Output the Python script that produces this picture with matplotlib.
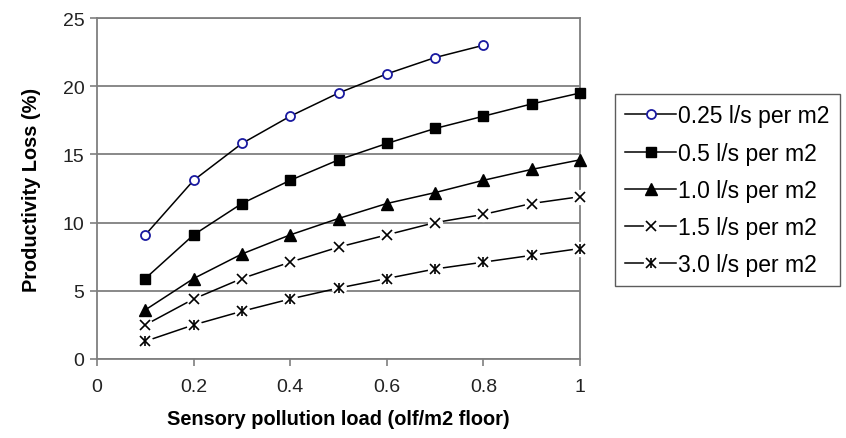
import matplotlib
matplotlib.use("Agg")
import matplotlib.pyplot as plt
from matplotlib.lines import Line2D
from matplotlib.legend_handler import HandlerTuple

plt.rcParams["font.family"] = ["Liberation Sans", "DejaVu Sans"]

# ---------- data ----------
load = [0.1, 0.2, 0.3, 0.4, 0.5, 0.6, 0.7, 0.8, 0.9, 1.0]
loss_025 = [9.1, 13.1, 15.8, 17.8, 19.5, 20.9, 22.1, 23.0]
loss_05 = [5.9, 9.1, 11.4, 13.1, 14.6, 15.8, 16.9, 17.8, 18.7, 19.5]
loss_10 = [3.6, 5.9, 7.7, 9.1, 10.3, 11.4, 12.2, 13.1, 13.9, 14.6]
loss_15 = [2.5, 4.4, 5.9, 7.1, 8.2, 9.1, 10.0, 10.6, 11.4, 11.9]
loss_30 = [1.3, 2.5, 3.5, 4.4, 5.2, 5.9, 6.6, 7.1, 7.6, 8.1]
labels = ["0.25 l/s per m2", "0.5 l/s per m2", "1.0 l/s per m2",
          "1.5 l/s per m2", "3.0 l/s per m2"]

W, H = 846, 439
fig = plt.figure(figsize=(W / 100, H / 100), dpi=100)
ax = fig.add_axes([97 / W, 1 - 360 / H, 483 / W, 341 / H])

LW = 1.1
handles = []

# 0.25 - hollow blue circles
ax.plot(load[:len(loss_025)], loss_025, color="black", lw=LW, zorder=3)
ax.plot(load[:len(loss_025)], loss_025, ls="none", marker="o", ms=6.5,
        mfc="white", mec="#1a1aa0", mew=1.3, zorder=5, clip_on=False)
handles.append((Line2D([], [], color="black", lw=LW),
                Line2D([], [], ls="none", marker="o", ms=6.5, mfc="white",
                       mec="#1a1aa0", mew=1.3)))

# 0.5 - filled squares
ax.plot(load, loss_05, color="black", lw=LW, marker="s", ms=7.5, zorder=3,
        clip_on=False)
handles.append((Line2D([], [], color="black", lw=LW, marker="s", ms=7.5),))

# 1.0 - filled triangles
ax.plot(load, loss_10, color="black", lw=LW, marker="^", ms=8, zorder=3,
        clip_on=False)
handles.append((Line2D([], [], color="black", lw=LW, marker="^", ms=8),))

# 1.5 / 3.0 - open markers with gaps in the line
for vals, marks in [(loss_15, ["x"]), (loss_30, ["x", "|"])]:
    ax.plot(load, vals, color="black", lw=LW, zorder=3)
    ax.plot(load, vals, ls="none", marker="o", ms=11, mfc="white",
            mec="none", zorder=4, clip_on=False)
    for m in marks:
        ax.plot(load, vals, ls="none", marker=m, ms=7.5, mec="black",
                mew=1.2, zorder=5, clip_on=False)
    h = [Line2D([], [], color="black", lw=LW),
         Line2D([], [], ls="none", marker="o", ms=11, mfc="white", mec="none")]
    for m in marks:
        h.append(Line2D([], [], ls="none", marker=m, ms=7.5, mec="black", mew=1.2))
    handles.append(tuple(h))

# ---------- axes ----------
ax.set_xlim(0, 1)
ax.set_ylim(0, 25)
ax.set_xticks([0, 0.2, 0.4, 0.6, 0.8, 1])
ax.set_xticklabels(["0", "0.2", "0.4", "0.6", "0.8", "1"])
ax.set_yticks([0, 5, 10, 15, 20, 25])
ax.yaxis.grid(True, color="#7f7f7f", lw=1.3)
ax.set_axisbelow(True)
for s in ax.spines.values():
    s.set_color("#7f7f7f")
    s.set_linewidth(1.3)
ax.tick_params(axis="both", labelsize=14, color="#7f7f7f", length=5,
               width=1.2, labelcolor="#222222", pad=4)
ax.tick_params(axis="x", pad=9)
ax.set_xlabel("Sensory pollution load (olf/m2 floor)", fontsize=14.4,
              fontweight="bold", va="center")
ax.set_ylabel("Productivity Loss (%)", fontsize=14.4, fontweight="bold",
              va="center")
ax.xaxis.set_label_coords(0.5, -(420 - 360) / 341)
ax.yaxis.set_label_coords(-(97 - 32) / 483, 0.5)

leg = ax.legend(handles, labels, handler_map={tuple: HandlerTuple(ndivide=1)},
                loc="upper left", bbox_to_anchor=(615 / W, 1 - 95 / H),
                bbox_transform=fig.transFigure, borderaxespad=0,
                fontsize=16.5, frameon=True, fancybox=False, edgecolor="#333333",
                handlelength=2.2, handletextpad=0.1, labelspacing=0.62,
                borderpad=0.45)
leg.get_frame().set_linewidth(1.0)

fig.savefig("out.png", dpi=100)
